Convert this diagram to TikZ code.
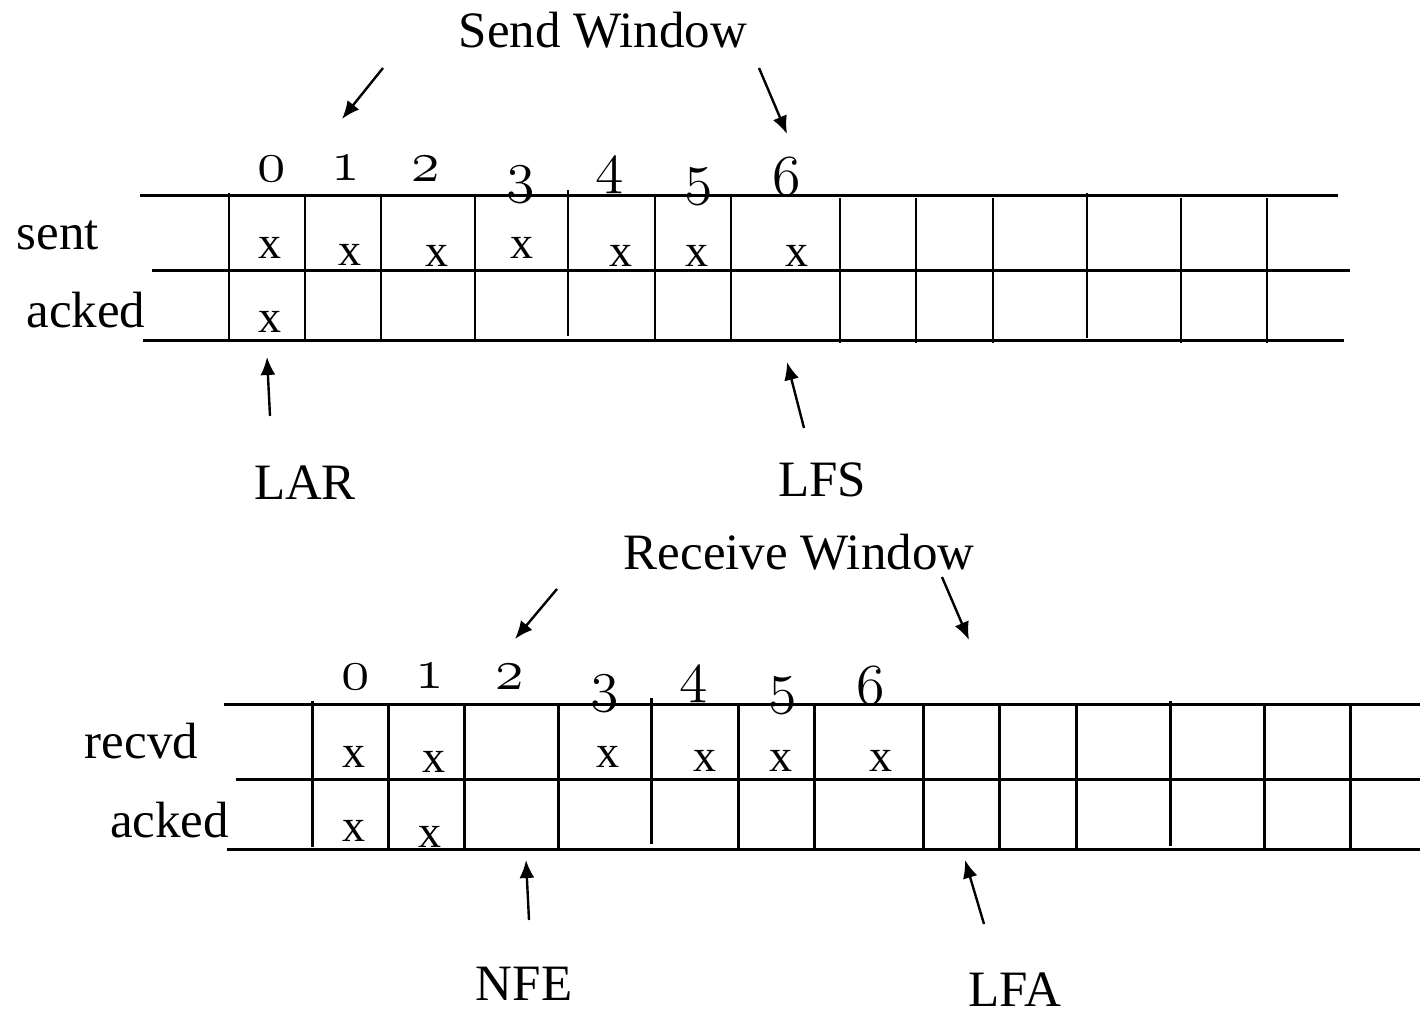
\documentclass[tikz,border=0pt]{standalone}
\usepackage{fontspec}
\setmainfont{Liberation Serif}
\usetikzlibrary{arrows.meta}
\font\seqfont=cmmi12 at 29pt
\tikzstyle{rowline} = [line width=1.5pt]
\tikzstyle{cellline} = [line width=1.2pt]
\tikzstyle{seqnum} = [inner sep=0pt, font=\seqfont]
\tikzstyle{hit} = [inner sep=0pt, font=\fontsize{23}{27}\selectfont]
\tikzstyle{rowname} = [anchor=base, inner sep=0pt, font=\fontsize{25.5}{30}\selectfont]
\tikzstyle{ptr} = [->, line width=1.2pt]

% the two-row frame grid with its sequence numbers
\newcommand{\seqgrid}{%
    \draw [rowline] (140,196) -- (1338,196);
    \draw [rowline] (152,271) -- (1350,271);
    \draw [rowline] (143,341) -- (1344,341);
    \foreach \x/\ya/\yb in {229/193/339, 305/196/341, 381/196/341, 475/196/341,
        568/190/336, 655/196/341, 731/196/341, 840/198/343, 916/198/343,
        993/198/343, 1087/193/338, 1181/198/343, 1267/198/343}
        \draw [cellline] (\x,\ya) -- (\x,\yb);
    \foreach \n/\x/\y in {0/272/169, 1/346/168, 2/426/169, 3/521/185,
        4/610/176, 5/699/187, 6/787/177}
        \node [seqnum] (num\n) at (\x,\y) {\n};
}

\begin{document}
\begin{tikzpicture}[x=0.5pt, y=-0.5pt, >={Latex[length=9pt,width=7.5pt]}]
    \useasboundingbox (0,0) rectangle (1420,1015);

    % Sender
    \seqgrid
    \node [rowname] (sent) at (58,250) {sent};
    \node [rowname] (acked) at (86,328) {acked};
    \foreach \i/\x/\y in {0/270/248, 1/350/255, 2/437/256, 3/522/248,
        4/621/256, 5/697/256, 6/797/256}
        \node [hit] (s\i) at (\x,\y) {x};
    \node [hit] (a0) at (270,322) {x};

    \node [rowname] (sendwin) at (603,48) {Send Window};
    \node [rowname] (lar) at (305,500) {LAR};
    \node [rowname] (lfs) at (822,497) {LFS};

    \coordinate (swl) at (383,68);
    \coordinate (swlend) at (342,119);
    \coordinate (swr) at (759,68);
    \coordinate (swrend) at (787,134);
    \coordinate (larfoot) at (270,416);
    \coordinate (larend) at (267,357);
    \coordinate (lfsfoot) at (804,428);
    \coordinate (lfsend) at (787,362);

    \draw [ptr] (swl) -- (swlend);
    \draw [ptr] (swr) -- (swrend);
    \draw [ptr] (larfoot) -- (larend);
    \draw [ptr] (lfsfoot) -- (lfsend);

    % Receiver
    \begin{scope}[shift={(83.5,508.5)}, name prefix=r-]
        \seqgrid
        \node [rowname] (recvd) at (58,250) {recvd};
        \node [rowname] (acked) at (86,329) {acked};
        \foreach \i/\x/\y in {0/270/248, 1/350/253, 3/524/248,
            4/621/252, 5/697/252, 6/797/252}
            \node [hit] (s\i) at (\x,\y) {x};
        \node [hit] (a0) at (270,322) {x};
        \node [hit] (a1) at (346,328) {x};
    \end{scope}

    \node [rowname] (recvwin) at (799,570) {Receive Window};
    \node [rowname] (nfe) at (524,1000) {NFE};
    \node [rowname] (lfa) at (1015,1006) {LFA};

    \coordinate (rwl) at (557,589);
    \coordinate (rwlend) at (515,639);
    \coordinate (rwr) at (942,577);
    \coordinate (rwrend) at (969,640);
    \coordinate (nfefoot) at (529,920);
    \coordinate (nfeend) at (526,860);
    \coordinate (lfafoot) at (984,924);
    \coordinate (lfaend) at (965,860);

    \draw [ptr] (rwl) -- (rwlend);
    \draw [ptr] (rwr) -- (rwrend);
    \draw [ptr] (nfefoot) -- (nfeend);
    \draw [ptr] (lfafoot) -- (lfaend);
\end{tikzpicture}
\end{document}
